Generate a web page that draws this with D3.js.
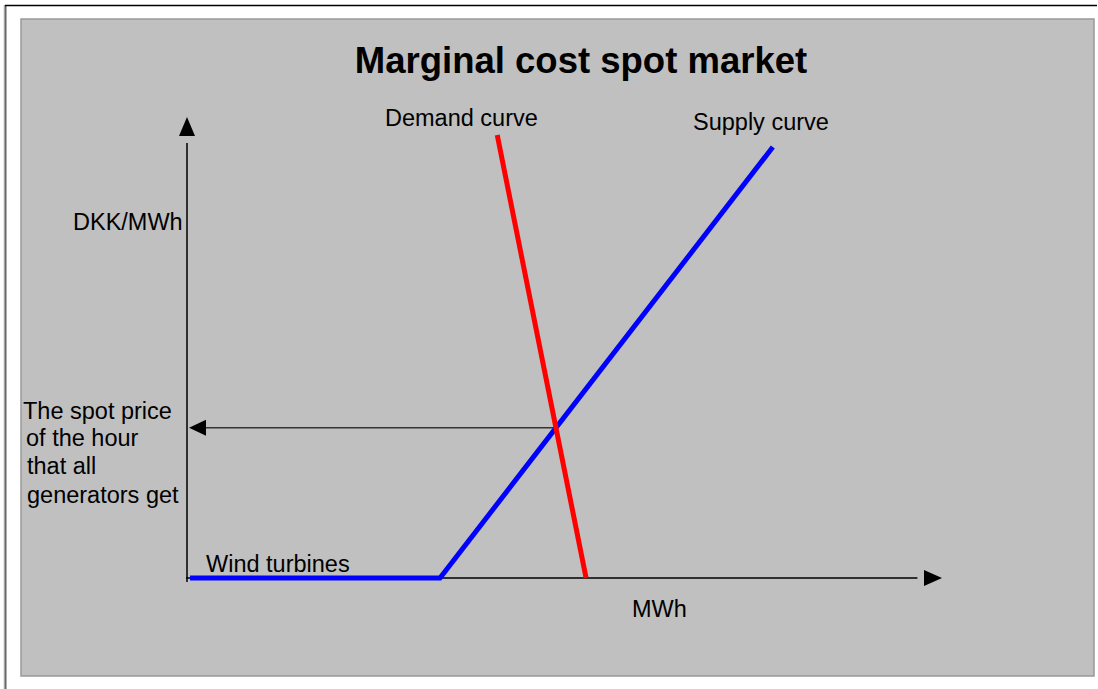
<!DOCTYPE html>
<html><head><meta charset="utf-8">
<script src="https://cdn.jsdelivr.net/npm/d3@7"></script>
<style>body{margin:0;background:#fff;}svg{display:block;font-family:"Liberation Sans",Arial,sans-serif;}</style>
</head><body>
<script>
// Data (arbitrary units: quantity 0..100, price 0..100)
const supplyQty   = [0.4, 33.6, 77.8];
const supplyPrice = [0, 0, 94.1];
const demandQty   = [41.2, 53.0];
const demandPrice = [96.7, 0];
const title = "Marginal cost spot market";
const spotPriceLines = ["The spot price", "of the hour", "that all", "generators get"];

const W = 1098, H = 689;
const svg = d3.select("body").append("svg").attr("width", W).attr("height", H);

// outer frame
svg.append("rect").attr("x",3).attr("y",5).attr("width",2).attr("height",H).attr("fill","#e8e8e8");
svg.append("line").attr("x1",5.5).attr("x2",5.5).attr("y1",5).attr("y2",H).attr("stroke","#666").attr("stroke-width",2);
svg.append("line").attr("x1",5).attr("x2",1097).attr("y1",5.5).attr("y2",5.5).attr("stroke","#000").attr("stroke-width",1.5);
// panel
svg.append("rect").attr("x",21).attr("y",19).attr("width",1073).attr("height",657)
  .attr("fill","#c0c0c0").attr("stroke","#999").attr("stroke-width",1.5);

const x = d3.scaleLinear().domain([0,100]).range([187,940]);
const y = d3.scaleLinear().domain([0,100]).range([578,120]);

// title
svg.append("text").attr("x",581).attr("y",73).attr("text-anchor","middle")
  .attr("font-size",36.5).attr("font-weight","bold").text(title);

// axes
svg.append("line").attr("x1",x(0)).attr("x2",x(0)).attr("y1",y(0)+4).attr("y2",y(95)).attr("stroke","#000").attr("stroke-width",1.5);
svg.append("line").attr("x1",x(0)-1).attr("x2",x(97)).attr("y1",y(0)).attr("y2",y(0)).attr("stroke","#000").attr("stroke-width",1.5);
// arrowheads
svg.append("path").attr("d",`M${x(0)},${y(100)-3} L${x(0)-8},${y(100)+16} L${x(0)+8},${y(100)+16} Z`).attr("fill","#000");
svg.append("path").attr("d",`M${x(100)+2},${y(0)} L${x(100)-16},${y(0)-8} L${x(100)-16},${y(0)+8} Z`).attr("fill","#000");

// intersection (computed from the two curves)
function intersect(p1,p2,p3,p4){
  const d=(p1[0]-p2[0])*(p3[1]-p4[1])-(p1[1]-p2[1])*(p3[0]-p4[0]);
  const t=((p1[0]-p3[0])*(p3[1]-p4[1])-(p1[1]-p3[1])*(p3[0]-p4[0]))/d;
  return [p1[0]+t*(p2[0]-p1[0]), p1[1]+t*(p2[1]-p1[1])];
}
const ip = intersect([supplyQty[1],supplyPrice[1]],[supplyQty[2],supplyPrice[2]],[demandQty[0],demandPrice[0]],[demandQty[1],demandPrice[1]]);

// spot price arrow
svg.append("line").attr("x1",x(ip[0])).attr("x2",x(0)+18).attr("y1",y(ip[1])).attr("y2",y(ip[1])).attr("stroke","#333").attr("stroke-width",1.5);
svg.append("path").attr("d",`M${x(0)+2},${y(ip[1])} L${x(0)+19},${y(ip[1])-8} L${x(0)+19},${y(ip[1])+8} Z`).attr("fill","#000");

const line = d3.line().x(d=>x(d[0])).y(d=>y(d[1]));
svg.append("path").datum(supplyQty.map((q,i)=>[q,supplyPrice[i]])).attr("d",line)
  .attr("fill","none").attr("stroke","#0000ff").attr("stroke-width",5);
svg.append("path").datum(demandQty.map((q,i)=>[q,demandPrice[i]])).attr("d",line)
  .attr("fill","none").attr("stroke","#ff0000").attr("stroke-width",5);

const fs = 23.5;
function label(t,xx,yy,anchor){svg.append("text").attr("x",xx).attr("y",yy).attr("font-size",fs).attr("text-anchor",anchor||"start").text(t);}
label("Demand curve",385,126);
label("Supply curve",693,130);
label("DKK/MWh",73,230);
label("MWh",632,617);
label("Wind turbines",206,572);
const sx=[23,26,27,27], sy=[419,446,474,503];
spotPriceLines.forEach((t,i)=>label(t,sx[i],sy[i]));
</script>
</body></html>
